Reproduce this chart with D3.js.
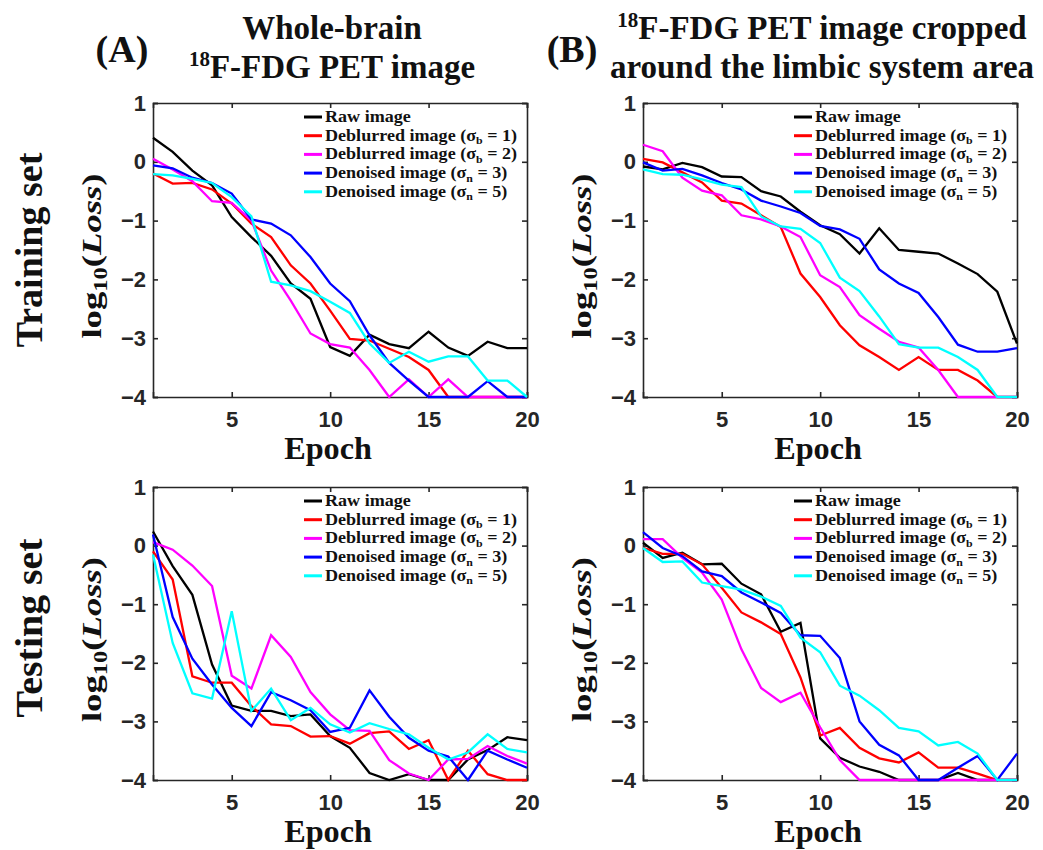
<!DOCTYPE html>
<html>
<head>
<meta charset="utf-8">
<script src="https://cdn.jsdelivr.net/npm/d3@7"></script>
<style>
  html, body { margin: 0; padding: 0; background: #fff; }
  svg { display: block; }
</style>
</head>
<body>
<svg id="chart" width="1043" height="850"></svg>
<script>
// ---------------- DATA ----------------
const epochs = [1, 2, 3, 4, 5, 6, 7, 8, 9, 10, 11, 12, 13, 14, 15, 16, 17, 18, 19, 20];
const xTickValues = [5, 10, 15, 20];
const yTickValues = [1, 0, -1, -2, -3, -4];

const seriesColors = ["#000000", "#ff0000", "#ff00ff", "#0000ff", "#00ffff"];
const legendMain = ["Raw image", "Deblurred image (σ", "Deblurred image (σ", "Denoised image (σ", "Denoised image (σ"];
const legendSub = ["", "b", "b", "n", "n"];
const legendTail = ["", " = 1)", " = 2)", " = 3)", " = 5)"];

// (A) Whole-brain, training set
const rawTrainA = [0.41, 0.17, -0.15, -0.40, -0.94, -1.28, -1.60, -2.07, -2.33, -3.15, -3.30, -2.94, -3.10, -3.17, -2.89, -3.16, -3.30, -3.06, -3.17, -3.17];
const deb1TrainA = [-0.20, -0.37, -0.36, -0.47, -0.71, -1.05, -1.28, -1.76, -2.07, -2.53, -3.01, -3.04, -3.18, -3.32, -3.54, -4, -4, -4, -4, -4];
const deb2TrainA = [0.05, -0.13, -0.33, -0.67, -0.70, -1.00, -1.85, -2.36, -2.92, -3.10, -3.16, -3.54, -4, -3.70, -4, -3.70, -4, -4, -4, -4];
const den3TrainA = [-0.06, -0.11, -0.27, -0.36, -0.54, -0.98, -1.05, -1.25, -1.62, -2.07, -2.37, -2.95, -3.42, -3.72, -4, -4, -4, -3.73, -4, -4];
const den5TrainA = [-0.21, -0.23, -0.29, -0.36, -0.60, -0.93, -2.04, -2.10, -2.20, -2.38, -2.57, -3.09, -3.42, -3.23, -3.40, -3.31, -3.31, -3.72, -3.72, -4];

// (B) Limbic-system crop, training set
const rawTrainB = [-0.08, -0.13, -0.02, -0.09, -0.25, -0.26, -0.50, -0.59, -0.85, -1.08, -1.23, -1.56, -1.13, -1.50, -1.53, -1.56, -1.73, -1.91, -2.21, -3.09];
const deb1TrainB = [0.05, -0.01, -0.18, -0.35, -0.66, -0.71, -0.91, -1.11, -1.90, -2.30, -2.78, -3.12, -3.32, -3.54, -3.32, -3.54, -3.54, -3.72, -4, -4];
const deb2TrainB = [0.29, 0.18, -0.27, -0.49, -0.57, -0.91, -0.98, -1.10, -1.28, -1.93, -2.13, -2.61, -2.84, -3.06, -3.16, -3.54, -4, -4, -4, -4];
const den3TrainB = [-0.01, -0.15, -0.12, -0.23, -0.36, -0.47, -0.66, -0.76, -0.87, -1.09, -1.15, -1.31, -1.83, -2.07, -2.23, -2.64, -3.11, -3.23, -3.23, -3.17];
const den5TrainB = [-0.13, -0.21, -0.22, -0.30, -0.39, -0.43, -0.93, -1.10, -1.14, -1.38, -1.97, -2.20, -2.63, -3.10, -3.16, -3.16, -3.32, -3.54, -4, -4];

// (A) Whole-brain, testing set
const rawTestA = [0.24, -0.35, -0.84, -2.03, -2.73, -2.82, -2.82, -2.91, -2.88, -3.25, -3.45, -3.88, -4, -3.90, -4, -4, -3.65, -3.49, -3.27, -3.32];
const deb1TestA = [-0.10, -0.58, -2.23, -2.34, -2.34, -2.74, -3.05, -3.08, -3.26, -3.25, -3.38, -3.20, -3.17, -3.47, -3.32, -4, -3.50, -3.90, -4, -4];
const deb2TestA = [0.06, -0.07, -0.34, -0.69, -2.22, -2.44, -1.53, -1.90, -2.50, -2.88, -3.15, -3.16, -3.66, -3.89, -4, -3.65, -3.64, -3.42, -3.59, -3.72];
const den3TestA = [0.19, -1.22, -1.93, -2.37, -2.77, -3.08, -2.50, -2.64, -2.81, -3.18, -3.11, -2.47, -2.92, -3.28, -3.50, -3.60, -4, -3.50, -3.65, -3.79];
const den5TestA = [-0.15, -1.66, -2.52, -2.61, -1.12, -2.82, -2.44, -2.98, -2.77, -3.05, -3.19, -3.03, -3.13, -3.22, -3.45, -3.65, -3.53, -3.22, -3.47, -3.53];

// (B) Limbic-system crop, testing set
const rawTestB = [0.05, -0.21, -0.12, -0.32, -0.31, -0.65, -0.83, -1.47, -1.32, -3.29, -3.62, -3.77, -3.86, -4, -4, -4, -3.88, -4, -4, -4];
const deb1TestB = [-0.04, -0.14, -0.14, -0.32, -0.72, -1.14, -1.31, -1.51, -2.25, -3.24, -3.11, -3.45, -3.63, -3.70, -3.53, -3.79, -3.79, -3.89, -4, -4];
const deb2TestB = [0.11, 0.11, -0.21, -0.46, -0.92, -1.77, -2.43, -2.67, -2.51, -3.10, -3.66, -4, -4, -4, -4, -4, -4, -4, -4, -4];
const den3TestB = [0.23, -0.04, -0.18, -0.44, -0.52, -0.80, -0.97, -1.15, -1.53, -1.54, -1.92, -3.00, -3.40, -3.58, -4, -4, -3.79, -3.59, -4, -3.55];
const den5TestB = [-0.04, -0.28, -0.27, -0.63, -0.69, -0.75, -0.87, -1.03, -1.57, -1.82, -2.39, -2.56, -2.81, -3.11, -3.17, -3.41, -3.35, -3.55, -4, -4];

// ---------------- LAYOUT ----------------
const SERIF = "'Liberation Serif', 'Times New Roman', serif";
const SANS = "'Liberation Sans', Arial, sans-serif";
const AXIS_COLOR = "#262626";

const panels = [
  { left: 153, right: 527, top: 103, bottom: 397, series: [rawTrainA, deb1TrainA, deb2TrainA, den3TrainA, den5TrainA] },
  { left: 643, right: 1017, top: 103, bottom: 397, series: [rawTrainB, deb1TrainB, deb2TrainB, den3TrainB, den5TrainB] },
  { left: 153, right: 527, top: 487, bottom: 780, series: [rawTestA, deb1TestA, deb2TestA, den3TestA, den5TestA] },
  { left: 643, right: 1017, top: 487, bottom: 780, series: [rawTestB, deb1TestB, deb2TestB, den3TestB, den5TestB] }
];

const svg = d3.select("#chart");
const intFmt = d3.format("d");

panels.forEach(p => {
  const x = d3.scaleLinear().domain([1, 20]).range([p.left, p.right]);
  const y = d3.scaleLinear().domain([-4, 1]).range([p.bottom, p.top]);
  const g = svg.append("g");

  const bottomAxis = d3.axisBottom(x).tickValues(xTickValues).tickSize(-5).tickPadding(14).tickFormat(intFmt);
  const topAxis = d3.axisTop(x).tickValues(xTickValues).tickSize(-5).tickFormat("");
  const leftAxis = d3.axisLeft(y).tickValues(yTickValues).tickSize(-5).tickPadding(7).tickFormat(intFmt);
  const rightAxis = d3.axisRight(y).tickValues(yTickValues).tickSize(-5).tickFormat("");

  const styleAxis = sel => {
    sel.select(".domain").attr("stroke", AXIS_COLOR).attr("stroke-width", 1.6);
    sel.selectAll(".tick line").attr("stroke", AXIS_COLOR).attr("stroke-width", 1.6);
    sel.selectAll(".tick text").attr("fill", AXIS_COLOR)
      .style("font-family", SANS).style("font-weight", "bold").style("font-size", "22px");
  };

  g.append("g").attr("transform", `translate(0,${p.bottom})`).call(bottomAxis).call(styleAxis);
  g.append("g").attr("transform", `translate(0,${p.top})`).call(topAxis).call(styleAxis);
  g.append("g").attr("transform", `translate(${p.left},0)`).call(leftAxis).call(styleAxis);
  g.append("g").attr("transform", `translate(${p.right},0)`).call(rightAxis).call(styleAxis);

  const line = d3.line().x((d, i) => x(epochs[i])).y(d => y(d));
  p.series.forEach((vals, si) => {
    g.append("path")
      .datum(vals)
      .attr("d", line)
      .attr("fill", "none")
      .attr("stroke", seriesColors[si])
      .attr("stroke-width", 2.3)
      .attr("stroke-linejoin", "miter");
  });

  // legend
  const lg = g.append("g").attr("transform", `translate(${p.left + 151},${p.top + 14})`);
  seriesColors.forEach((c, i) => {
    const row = lg.append("g").attr("transform", `translate(0,${i * 18.7})`);
    row.append("line").attr("x1", 0).attr("x2", 18).attr("y1", 0).attr("y2", 0)
      .attr("stroke", c).attr("stroke-width", 3);
    const t = row.append("text").attr("transform", "translate(21,5) scale(1.13,1)")
      .style("font-family", SERIF).style("font-weight", "bold").style("font-size", "16px").attr("fill", "#111");
    t.append("tspan").text(legendMain[i]);
    if (legendSub[i]) {
      t.append("tspan").text(legendSub[i]).attr("dy", 3.5).style("font-size", "10.5px");
      t.append("tspan").text(legendTail[i]).attr("dy", -3.5);
    }
  });

  // x label
  g.append("text")
    .attr("transform", `translate(${(p.left + p.right) / 2 - 12},${p.bottom + 62}) scale(1.04,1)`)
    .attr("text-anchor", "middle")
    .style("font-family", SERIF).style("font-weight", "bold").style("font-size", "31px")
    .attr("fill", "#111")
    .text("Epoch");

  // y label
  const yl = g.append("text")
    .attr("transform", `translate(${p.left - 52},${(p.top + p.bottom) / 2 + 6}) rotate(-90) scale(1.36,1)`)
    .attr("text-anchor", "middle")
    .style("font-family", SERIF).style("font-weight", "bold").style("font-size", "27px")
    .attr("fill", "#111");
  yl.append("tspan").text("log");
  yl.append("tspan").text("10").attr("dy", 6).style("font-size", "18px");
  yl.append("tspan").text("(").attr("dy", -6);
  yl.append("tspan").text("Loss").style("font-style", "italic");
  yl.append("tspan").text(")");
});

// ---------------- TITLES ----------------
const titleStyle = sel => sel.style("font-family", SERIF).style("font-weight", "bold").attr("fill", "#111");

svg.append("text").attr("x", 122).attr("y", 62).attr("text-anchor", "middle")
  .call(titleStyle).style("font-size", "38px").text("(A)");
svg.append("text").attr("x", 572).attr("y", 62).attr("text-anchor", "middle")
  .call(titleStyle).style("font-size", "38px").text("(B)");

svg.append("text").attr("x", 332).attr("y", 39).attr("text-anchor", "middle")
  .call(titleStyle).style("font-size", "33px").text("Whole-brain");
const tA2 = svg.append("text").attr("x", 332).attr("y", 78).attr("text-anchor", "middle")
  .call(titleStyle).style("font-size", "33px");
tA2.append("tspan").text("18").attr("dy", -12).style("font-size", "21px");
tA2.append("tspan").text("F-FDG PET image").attr("dy", 12);

const tB1 = svg.append("text").attr("x", 822).attr("y", 39).attr("text-anchor", "middle")
  .call(titleStyle).style("font-size", "33px");
tB1.append("tspan").text("18").attr("dy", -12).style("font-size", "21px");
tB1.append("tspan").text("F-FDG PET image cropped").attr("dy", 12);
svg.append("text").attr("x", 822).attr("y", 78).attr("text-anchor", "middle")
  .call(titleStyle).style("font-size", "33px").text("around the limbic system area");

// row labels
svg.append("text").attr("transform", "translate(42,250) rotate(-90)").attr("text-anchor", "middle")
  .call(titleStyle).style("font-size", "38px").text("Training set");
svg.append("text").attr("transform", "translate(42,628) rotate(-90) scale(1.05,1)").attr("text-anchor", "middle")
  .call(titleStyle).style("font-size", "38px").text("Testing set");
</script>
</body>
</html>
